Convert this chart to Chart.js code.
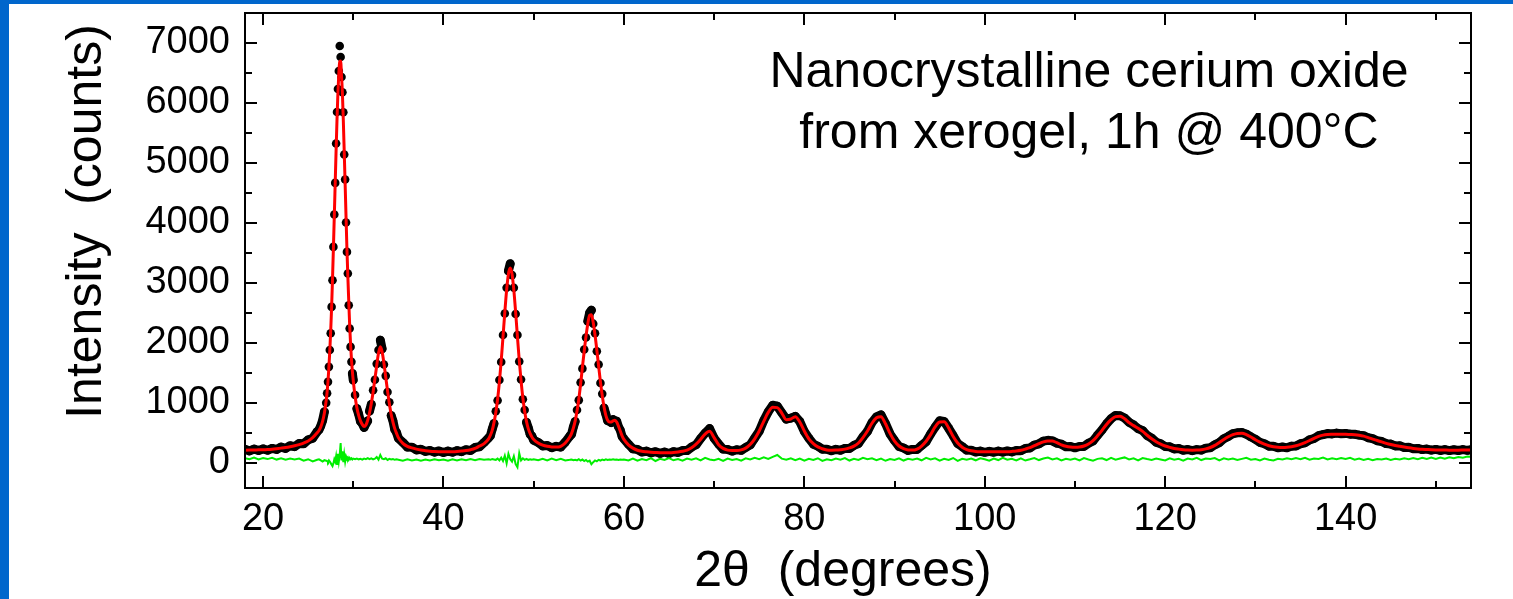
<!DOCTYPE html>
<html>
<head>
<meta charset="utf-8">
<script src="https://cdn.jsdelivr.net/npm/chart.js@4.4.1/dist/chart.umd.min.js"></script>
<style>
  html, body { margin: 0; padding: 0; background: #fff; }
  #wrap { position: relative; width: 1513px; height: 599px; overflow: hidden; }
  #wrap canvas { position: absolute; left: 0; top: 0; }
  .edge { position: absolute; left: 0; top: 0; background: #0066cc; }
  #edgeLeft { width: 9px; height: 599px; }
  #edgeTop { width: 1513px; height: 4px; }
</style>
</head>
<body>
<div id="wrap">
  <canvas id="xrd" width="1513" height="599"></canvas>
  <div class="edge" id="edgeLeft"></div>
  <div class="edge" id="edgeTop"></div>
</div>
<script>
// scan angle, degrees 2-theta (finer steps across the sharp reflections)
const twoTheta = [
  18, 18.5, 19, 19.5, 20, 20.5, 21, 21.5, 22, 22.5, 23, 23.5, 24, 24.5, 25, 25.5, 26,
  26.2, 26.4, 26.6, 26.8, 27,
  27.1, 27.2, 27.3, 27.4, 27.5, 27.6, 27.7, 27.8, 27.9, 28,
  28.1, 28.2, 28.3, 28.4, 28.5, 28.6, 28.7, 28.8, 28.9, 29,
  29.1, 29.2, 29.3, 29.4, 29.5, 29.6, 29.7, 29.8, 29.9, 30,
  30.2, 30.4, 30.6, 30.8, 31, 31.2, 31.4, 31.6, 31.8, 32, 32.2, 32.4, 32.6, 32.8, 33,
  33.2, 33.4, 33.6, 33.8, 34, 34.2, 34.4, 34.6, 34.8, 35,
  35.5, 36, 36.5, 37, 37.5, 38, 38.5, 39, 39.5, 40, 40.5, 41, 41.5, 42, 42.5, 43, 43.5, 44, 44.5,
  45, 45.2, 45.4, 45.6, 45.8, 46, 46.2, 46.4, 46.6, 46.8, 47, 47.2, 47.4,
  47.6, 47.8, 48, 48.2, 48.4, 48.6, 48.8, 49, 49.2, 49.4, 49.6, 49.8, 50,
  50.5, 51, 51.5, 52, 52.5, 53, 53.5,
  54, 54.2, 54.4, 54.6, 54.8, 55, 55.2, 55.4, 55.6, 55.8, 56, 56.2, 56.4, 56.6, 56.8,
  57, 57.2, 57.4, 57.6, 57.8, 58, 58.2, 58.4, 58.6, 58.8, 59, 59.2, 59.4, 59.6, 59.8, 60,
  60.5, 61, 61.5, 62, 62.5, 63, 63.5, 64, 64.5, 65, 65.5, 66, 66.5, 67, 67.5, 68, 68.5, 69, 69.5,
  70, 70.5, 71, 71.5, 72, 72.5, 73, 73.5, 74, 74.5, 75, 75.5, 76, 76.5, 77, 77.5, 78, 78.5, 79, 79.5,
  80, 80.5, 81, 81.5, 82, 82.5, 83, 83.5, 84, 84.5, 85, 85.5, 86, 86.5, 87, 87.5, 88, 88.5, 89, 89.5,
  90, 90.5, 91, 91.5, 92, 92.5, 93, 93.5, 94, 94.5, 95, 95.5, 96, 96.5, 97, 97.5, 98, 98.5, 99, 99.5,
  100, 100.5, 101, 101.5, 102, 102.5, 103, 103.5, 104, 104.5, 105, 105.5, 106, 106.5, 107, 107.5, 108, 108.5, 109, 109.5,
  110, 110.5, 111, 111.5, 112, 112.5, 113, 113.5, 114, 114.5, 115, 115.5, 116, 116.5, 117, 117.5, 118, 118.5, 119, 119.5,
  120, 120.5, 121, 121.5, 122, 122.5, 123, 123.5, 124, 124.5, 125, 125.5, 126, 126.5, 127, 127.5, 128, 128.5, 129, 129.5,
  130, 130.5, 131, 131.5, 132, 132.5, 133, 133.5, 134, 134.5, 135, 135.5, 136, 136.5, 137, 137.5, 138, 138.5, 139, 139.5,
  140, 140.5, 141, 141.5, 142, 142.5, 143, 143.5, 144, 144.5, 145, 145.5, 146, 146.5, 147, 147.5, 148, 148.5, 149, 149.5,
  150, 150.5, 151, 151.5, 152, 152.5, 153, 153.5, 154
];

// measured counts
const observed = [
  225, 198, 230, 205, 232, 210, 240, 222, 262, 240, 285, 270, 322, 318, 382, 410, 520,
  550, 615, 705, 850, 1000,
  1160, 1350, 1600, 1880, 2160, 2600, 3045, 3600, 4140, 4667,
  5323, 5850, 6233, 6533, 6950, 6767, 6433, 6178, 5845, 5140,
  4723, 4007, 3517, 3157, 2628, 2240, 1933, 1683, 1490, 1380,
  1130, 905, 810, 690, 655, 590, 650, 700, 860, 975, 1210, 1385, 1650, 1880, 2045,
  1900, 1640, 1450, 1180, 1010, 790, 700, 555, 505, 410,
  340, 262, 260, 215, 225, 190, 205, 178, 198, 172, 195, 176, 203, 185, 218, 206, 256, 268, 338,
  415, 450, 560, 655, 860, 1040, 1380, 1680, 2130, 2490, 2920, 3200, 3320,
  3130, 2920, 2480, 2130, 1690, 1390, 1060, 880, 675, 585, 478, 445, 378,
  340, 282, 288, 252, 275, 262, 345,
  445, 478, 600, 690, 880, 1045, 1340, 1570, 1890, 2090, 2360, 2500, 2545, 2320, 2160,
  1860, 1640, 1330, 1150, 915, 810, 700, 695, 670, 720, 700, 695, 600, 545, 440, 400,
  310, 232, 222, 180, 196, 165, 185, 158, 180, 156, 186, 172, 205, 204, 262, 300, 405, 495, 570,
  410, 312, 228, 222, 195, 218, 208, 256, 298, 412, 525, 705, 850, 960, 945, 835, 728, 745, 775, 688,
  522, 410, 312, 276, 228, 226, 200, 224, 210, 240, 240, 290, 322, 432, 524, 672, 765, 800, 655, 482,
  370, 272, 246, 206, 224, 222, 290, 352, 482, 595, 700, 690, 575, 452, 322, 270, 212, 210, 180, 196,
  175, 192, 176, 195, 178, 198, 182, 206, 200, 238, 246, 296, 315, 362, 375, 366, 328, 310, 268, 272,
  250, 272, 274, 326, 364, 460, 548, 650, 735, 790, 785, 748, 675, 632, 570, 538, 455, 412, 344, 318,
  272, 266, 232, 238, 210, 222, 202, 220, 212, 244, 250, 300, 336, 402, 440, 485, 500, 505, 478, 432,
  392, 340, 318, 278, 276, 250, 264, 250, 278, 280, 318, 334, 382, 405, 452, 470, 488, 482, 495, 485,
  490, 478, 476, 462, 452, 418, 402, 368, 356, 320, 312, 282, 284, 256, 258, 234, 240, 220, 230, 212,
  224, 206, 220, 204, 218, 205, 220, 208, 222
];

// refined profile
const calculated = [
  210, 212, 214, 216, 218, 222, 228, 236, 245, 255, 268, 284, 304, 330, 365, 420, 500,
  540, 600, 690, 830, 1040,
  1180, 1360, 1590, 1870, 2200, 2590, 3060, 3580, 4120, 4670,
  5220, 5730, 6170, 6490, 6690, 6700, 6450, 6150, 5700, 5180,
  4650, 4100, 3560, 3110, 2700, 2300, 1990, 1730, 1530, 1370,
  1110, 920, 790, 700, 640, 605, 630, 710, 830, 990, 1180, 1400, 1620, 1830, 1935,
  1850, 1660, 1430, 1200, 990, 810, 680, 570, 490, 420,
  325, 275, 248, 228, 212, 202, 194, 189, 186, 184, 184, 186, 190, 196, 204, 218, 240, 280, 320,
  400, 460, 540, 670, 840, 1060, 1350, 1700, 2100, 2510, 2880, 3150, 3250,
  3150, 2880, 2510, 2100, 1710, 1370, 1080, 860, 690, 570, 490, 430, 390,
  330, 295, 275, 265, 262, 275, 330,
  430, 490, 580, 700, 860, 1060, 1310, 1590, 1860, 2110, 2320, 2460, 2470, 2340, 2130,
  1880, 1610, 1350, 1120, 930, 790, 710, 680, 680, 700, 710, 680, 610, 530, 450, 390,
  300, 245, 210, 192, 183, 176, 172, 168, 167, 168, 172, 180, 192, 212, 250, 310, 390, 480, 525,
  420, 300, 240, 212, 205, 205, 215, 245, 305, 400, 530, 690, 840, 925, 920, 830, 720, 730, 770, 680,
  530, 400, 320, 265, 235, 215, 210, 212, 218, 228, 248, 278, 330, 420, 530, 660, 750, 770, 650, 490,
  360, 280, 235, 215, 212, 230, 280, 360, 470, 600, 680, 685, 580, 440, 330, 260, 220, 200, 190, 185,
  183, 183, 183, 184, 185, 186, 190, 196, 208, 228, 252, 285, 320, 350, 365, 362, 335, 300, 275, 262,
  258, 262, 280, 315, 370, 450, 540, 640, 720, 770, 775, 735, 670, 620, 575, 525, 460, 400, 350, 310,
  280, 258, 240, 228, 218, 212, 210, 212, 218, 232, 255, 290, 340, 390, 435, 470, 490, 492, 470, 430,
  385, 345, 310, 285, 268, 258, 255, 258, 268, 285, 308, 338, 372, 408, 440, 462, 472, 476, 478, 478,
  476, 472, 468, 460, 445, 420, 395, 372, 348, 325, 305, 288, 275, 262, 250, 240, 232, 226, 222, 218,
  215, 213, 212, 211, 211, 211, 212, 213, 213
];

// observed minus calculated
const difference = [
  75, 60, 86, 56, 78, 62, 84, 54, 76, 50, 72, 56, 70, 34, 60, 24, 52,
  58, 40, 20, 45, 35,
  30, 10, 40, 20, -5, -30, -55, -10, 60, 20,
  110, -20, 150, 20, 130, 330, 40, 190, 10, 140,
  20, 110, 70, 90, 50, 80, 60, 75, 55, 70,
  60, 72, 58, 66, 54, 70, 62, 78, 60, 74, 56, 68, 95, 52, 130,
  70, 60, 75, 48, 66, 55, 62, 50, 58, 52,
  36, 58, 40, 56, 34, 54, 38, 60, 42, 56, 36, 58, 40, 60, 44, 62, 42, 64, 50,
  58, 50, 62, 55, 48, 70, 40, 85, 30, 120, -10, 150, 60,
  20, 110, -20, -72, 160, 40, 75, 50, 66, 48, 60, 52, 58,
  42, 66, 40, 70, 44, 68, 38,
  50, 56, 44, 52, 40, 60, 38, 55, 30, 48, 20, 35, -25, 10, 40,
  25, 50, 38, 55, 45, 58, 48, 55, 50, 58, 52, 56, 48, 54, 50, 56,
  40, 72, 35, 64, 45, 78, 30, 66, 48, 80, 42, 62, 34, 70, 52, 76, 40, 84, 56,
  42, 68, 32, 72, 48, 62, 36, 76, 55, 82, 60, 90, 64, 100, 130, 70, 52, 76, 44, 70,
  36, 68, 48, 76, 32, 60, 44, 72, 52, 80, 38, 68, 48, 84, 60, 74, 42, 72, 34, 62,
  46, 76, 38, 68, 52, 72, 42, 82, 56, 74, 36, 68, 48, 80, 32, 68, 52, 72, 42, 76,
  58, 36, 72, 46, 84, 52, 66, 40, 76, 38, 58, 80, 46, 72, 88, 56, 74, 40, 66, 50,
  72, 40, 80, 56, 36, 66, 76, 46, 84, 52, 72, 90, 56, 76, 42, 80, 62, 46, 72, 56,
  40, 76, 50, 66, 36, 72, 56, 84, 46, 72, 62, 80, 40, 76, 56, 72, 46, 66, 84, 52,
  62, 40, 72, 50, 38, 68, 54, 76, 58, 80, 60, 84, 52, 72, 64, 86, 56, 76, 60, 80,
  64, 82, 52, 70, 48, 66, 44, 62, 54, 72, 48, 68, 54, 76, 58, 78, 60, 82, 64, 86,
  66, 88, 70, 94, 76, 98, 84, 104, 100
];

const xMajorTicks = [20, 40, 60, 80, 100, 120, 140];
const xTickLabels = ['20', '40', '60', '80', '100', '120', '140'];
const xMinorTicks = [30, 50, 70, 90, 110, 130, 150];
const yMajorTicks = [0, 1000, 2000, 3000, 4000, 5000, 6000, 7000];
const yTickLabels = ['0', '1000', '2000', '3000', '4000', '5000', '6000', '7000'];
const yMinorTicks = [500, 1500, 2500, 3500, 4500, 5500, 6500];

const titleLines = ['Nanocrystalline cerium oxide', 'from xerogel, 1h @ 400\u00B0C'];
const xAxisTitle = '2\u03B8  (degrees)';
const yAxisTitle = 'Intensity  (counts)';

const FONT = '"Liberation Sans", Arial, Helvetica, sans-serif';

function toPoints(values) {
    return twoTheta.map((t, i) => ({ x: t, y: values[i] }));
}

// on the finely stepped parts, leave widely spaced dots unconnected
function observedSegmentColor(ctx) {
    const dx = Math.abs(ctx.p1.x - ctx.p0.x);
    const dy = Math.abs(ctx.p1.y - ctx.p0.y);
    return (dx < 3 && Math.hypot(dx, dy) > 9) ? 'rgba(0,0,0,0)' : '#000';
}

// closed frame with inward ticks on all four sides
const frameTicks = {
    id: 'frameTicks',
    afterDatasetsDraw(chart) {
        const { ctx, chartArea: a, scales: { x, y } } = chart;
        ctx.save();
        ctx.strokeStyle = '#000';
        ctx.lineWidth = 2;
        ctx.beginPath();
        const xTick = (v, len) => {
            const px = Math.round(x.getPixelForValue(v));
            ctx.moveTo(px, a.bottom); ctx.lineTo(px, a.bottom - len);
            ctx.moveTo(px, a.top); ctx.lineTo(px, a.top + len);
        };
        const yTick = (v, len) => {
            const py = Math.round(y.getPixelForValue(v));
            ctx.moveTo(a.left, py); ctx.lineTo(a.left + len, py);
            ctx.moveTo(a.right, py); ctx.lineTo(a.right - len, py);
        };
        xMajorTicks.forEach(v => xTick(v, 12));
        xMinorTicks.forEach(v => xTick(v, 7));
        yMajorTicks.forEach(v => yTick(v, 12));
        yMinorTicks.forEach(v => yTick(v, 7));
        ctx.stroke();
        ctx.strokeRect(a.left, a.top, a.right - a.left, a.bottom - a.top);
        ctx.restore();
    }
};

const plotText = {
    id: 'plotText',
    afterDraw(chart) {
        const { ctx, chartArea: a } = chart;
        ctx.save();
        ctx.fillStyle = '#000';
        ctx.font = `50px ${FONT}`;
        ctx.textAlign = 'center';
        ctx.textBaseline = 'alphabetic';
        ctx.fillText(titleLines[0], a.right - 382, a.top + 74);
        ctx.fillText(titleLines[1], a.right - 382, a.top + 135);
        ctx.fillText(xAxisTitle, (a.left + a.right) / 2 - 15, a.bottom + 98);
        ctx.translate(a.left - 144, (a.top + a.bottom) / 2 - 29);
        ctx.rotate(-Math.PI / 2);
        ctx.fillText(yAxisTitle, 0, 0);
        ctx.restore();
    }
};

const canvas = document.getElementById('xrd');
new Chart(canvas.getContext('2d'), {
    type: 'line',
    data: {
        datasets: [
            {
                label: 'Calculated',
                data: toPoints(calculated),
                borderColor: '#ff0000',
                borderWidth: 3,
                pointRadius: 0,
                cubicInterpolationMode: 'monotone',
                order: 0,
                clip: 0
            },
            {
                label: 'Difference',
                data: toPoints(difference),
                borderColor: '#00ee00',
                borderWidth: 2,
                pointRadius: 0,
                tension: 0,
                order: 1,
                clip: 0
            },
            {
                label: 'Observed',
                data: toPoints(observed),
                borderColor: '#000',
                borderWidth: 9,
                borderCapStyle: 'round',
                borderJoinStyle: 'round',
                pointRadius: 4.3,
                pointBackgroundColor: '#000',
                pointBorderWidth: 0,
                tension: 0,
                order: 2,
                clip: 0,
                segment: { borderColor: observedSegmentColor }
            }
        ]
    },
    options: {
        responsive: false,
        animation: false,
        devicePixelRatio: 1,
        layout: { padding: { top: 13, right: 42, left: 0, bottom: 0 } },
        plugins: {
            legend: { display: false },
            tooltip: { enabled: false }
        },
        scales: {
            x: {
                type: 'linear',
                min: 18,
                max: 153.9,
                grid: { display: false, drawTicks: false },
                border: { display: false },
                afterBuildTicks: s => { s.ticks = xMajorTicks.map(v => ({ value: v })); },
                afterFit: s => { s.height = 111; s.paddingLeft = 0; s.paddingRight = 0; },
                ticks: {
                    callback: v => xTickLabels[xMajorTicks.indexOf(v)],
                    font: { family: FONT, size: 38 },
                    color: '#000',
                    padding: 9,
                    maxRotation: 0,
                    autoSkip: false
                }
            },
            y: {
                type: 'linear',
                min: -420,
                max: 7500,
                grid: { display: false, drawTicks: false },
                border: { display: false },
                afterBuildTicks: s => { s.ticks = yMajorTicks.map(v => ({ value: v })); },
                afterFit: s => { s.width = 245; s.paddingTop = 0; s.paddingBottom = 0; },
                ticks: {
                    callback: v => yTickLabels[yMajorTicks.indexOf(v)],
                    font: { family: FONT, size: 38 },
                    color: '#000',
                    padding: 15,
                    autoSkip: false
                }
            }
        }
    },
    plugins: [frameTicks, plotText]
});
</script>
</body>
</html>
